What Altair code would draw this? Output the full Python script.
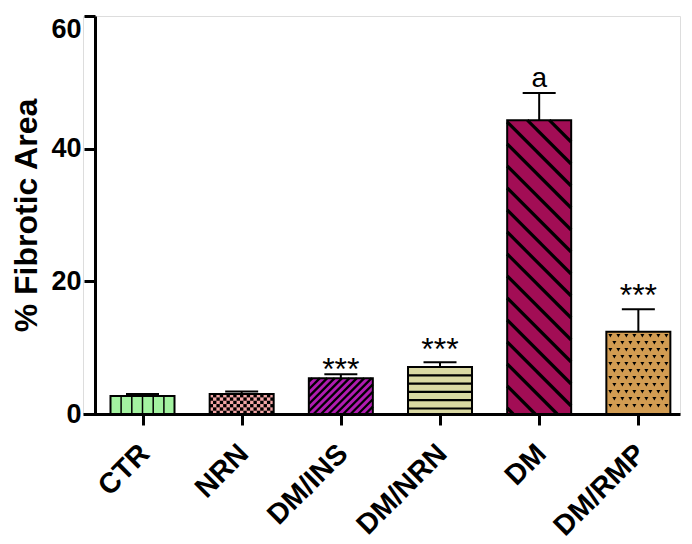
import altair as alt
import pandas as pd
import numpy as np

# ---------------- data ----------------
groups = ["CTR", "NRN", "DM/INS", "DM/NRN", "DM", "DM/RMP"]
means = [2.7, 3.0, 5.4, 7.1, 44.3, 12.4]
sems = [0.3, 0.4, 0.6, 0.7, 4.1, 3.4]
fills = ["#a3f3a0", "#f4a6a6", "#b01cb0", "#d9d8a2", "#a20d55", "#d29c52"]
marks = ["", "", "***", "***", "a", "***"]
mark_y = [None, None, 7.2, 10.3, 49.3, 18.4]   # bottom of the annotation glyph
y_ticks = [0, 20, 40, 60]

# ---------------- layout ----------------
FONT = "Liberation Sans, Arial, Helvetica, sans-serif"
W, H = 597, 398
XMIN, XMAX = -0.6, 5.42
YMAX = 60
PX = W / (XMAX - XMIN)   # px per x unit
PY = H / YMAX            # px per y unit
BW = 32 / PX             # half bar width
CAP = 16.5 / PX          # half cap width

df = pd.DataFrame({"i": range(6), "group": groups, "mean": means, "sem": sems, "fill": fills})
df["x"] = df["i"] - BW
df["x2"] = df["i"] + BW
df["zero"] = 0.0
df["top"] = df["mean"] + df["sem"]
df["cx"] = df["i"] - CAP
df["cx2"] = df["i"] + CAP

# ---------------- patterns (derived from bar geometry) ----------------
lines = []
def add_line(x, x2, y, y2, w):
    lines.append({"x": x, "x2": x2, "y": y, "y2": y2, "w": w})

for i, m in enumerate(means):
    left = i - BW
    wpx = 2 * BW * PX
    hpx = m * PY
    g = groups[i]
    if g == "CTR":
        for k in range(-2, 3):
            xx = i + k * 10.7 / PX
            add_line(xx, xx, 0, m, 1.5)
    elif g == "DM/NRN":
        for yp in np.arange(5.5, hpx - 3, 8.3):
            add_line(left, i + BW, yp / PY, yp / PY, 2.2)
    elif g == "DM/INS":
        for c in np.arange(-wpx, hpx, 7.4):
            lo = max(0.0, -c)
            hi = min(wpx, hpx - c)
            if hi > lo + 0.5:
                add_line(left + lo / PX, left + hi / PX, (lo + c) / PY, (hi + c) / PY, 2.3)
    elif g == "DM":
        for c in np.arange(6, hpx + wpx, 22):
            lo = max(0.0, c - hpx)
            hi = min(wpx, c)
            if hi > lo + 0.5:
                add_line(left + lo / PX, left + hi / PX, (c - lo) / PY, (c - hi) / PY, 3.2)
lines_df = pd.DataFrame(lines)

cells = []
i = groups.index("NRN")
m = means[i]
ncol, nrow = 19, max(1, int(round(m * PY / 3.35)))
cw = 2 * BW / ncol
ch = m / nrow
for r in range(nrow):
    for c in range(ncol):
        if (r + c) % 2 == 0:
            cells.append({"x": i - BW + c * cw, "x2": i - BW + (c + 1) * cw,
                          "y": r * ch, "y2": (r + 1) * ch})
cells_df = pd.DataFrame(cells)

dots = []
i = groups.index("DM/RMP")
m = means[i]
hpx = m * PY
for r, yp in enumerate(np.arange(4, hpx - 2, 7.0)):
    off = 4 if r % 2 else 0
    for xp in np.arange(4 + off, 2 * BW * PX - 2, 8.0):
        dots.append({"x": i - BW + xp / PX, "y": (hpx - yp) / PY})
dots_df = pd.DataFrame(dots)

ann_df = pd.DataFrame({"i": range(6), "mark": marks, "my": mark_y}).dropna()

# ---------------- scales & axes ----------------
xs = alt.Scale(domain=[XMIN, XMAX], nice=False, zero=False)
ys = alt.Scale(domain=[0, YMAX], nice=False, zero=True)
label_expr = "[" + ",".join(f"'{g}'" for g in groups) + "][datum.value]"

xaxis = alt.Axis(values=list(range(6)), labelExpr=label_expr, labelAngle=-45,
                 labelAlign="right", labelBaseline="alphabetic", labelFontSize=28.5,
                 labelFontWeight="bold", labelFont=FONT, labelColor="black",
                 labelPadding=30, labelOffset=8, tickSize=11, tickWidth=3, tickColor="black",
                 domainWidth=3, domainColor="black", grid=False, title=None,
                 labelOverlap=False, labelBound=False)
yaxis = alt.Axis(values=y_ticks, labelFontSize=27, labelFontWeight="bold",
                 labelFont=FONT, labelColor="black", labelPadding=3,
                 labelBaseline=alt.expr("datum.value == 60 ? 'top' : 'middle'"),
                 tickSize=11, tickWidth=3, tickColor="black", domainWidth=3,
                 domainColor="black", grid=False, offset=-12,
                 title="% Fibrotic Area", titleFont=FONT, titleFontSize=32,
                 titleFontWeight="bold", titleColor="black", titlePadding=7)

def X(f):
    return alt.X(f, scale=xs, axis=xaxis)

def Y(f):
    return alt.Y(f, scale=ys, axis=yaxis)

bars = alt.Chart(df).mark_rect(strokeWidth=0).encode(
    x=X("x:Q"), x2="x2:Q", y=Y("mean:Q"), y2="zero:Q",
    fill=alt.Fill("fill:N", scale=None),
)

pattern_lines = alt.Chart(lines_df).mark_rule(color="black").encode(
    x=X("x:Q"), x2="x2:Q", y=Y("y:Q"), y2="y2:Q",
    strokeWidth=alt.StrokeWidth("w:Q", scale=None),
)

checker = alt.Chart(cells_df).mark_rect(color="black").encode(
    x=X("x:Q"), x2="x2:Q", y=Y("y:Q"), y2="y2:Q",
)

dotted = alt.Chart(dots_df).mark_point(shape="triangle-down", filled=True,
                                        color="black", opacity=1, size=16).encode(
    x=X("x:Q"), y=Y("y:Q"),
)

outline = alt.Chart(df).mark_rect(fillOpacity=0, stroke="black", strokeWidth=2).encode(
    x=X("x:Q"), x2="x2:Q", y=Y("mean:Q"), y2="zero:Q",
)

stem = alt.Chart(df).mark_rule(color="black", strokeWidth=2).encode(
    x=X("i:Q"), y=Y("mean:Q"), y2="top:Q",
)

caps = alt.Chart(df).mark_rule(color="black", strokeWidth=2).encode(
    x=X("cx:Q"), x2="cx2:Q", y=Y("top:Q"),
)

stars = alt.Chart(ann_df).transform_filter("datum.mark == '***'").mark_text(
    font=FONT, fontSize=32, color="black", baseline="alphabetic", dy=14).encode(
    x=X("i:Q"), y=Y("my:Q"), text="mark:N",
)

letter = alt.Chart(ann_df).transform_filter("datum.mark == 'a'").mark_text(
    font=FONT, fontSize=28, color="black", baseline="alphabetic").encode(
    x=X("i:Q"), y=Y("my:Q"), text="mark:N",
)

chart = alt.layer(bars, pattern_lines, checker, dotted, outline, stem, caps, stars, letter).properties(
    width=W, height=H,
    autosize=alt.AutoSizeParams(type="none"),
    padding={"left": 75, "right": 4, "top": 8, "bottom": 128},
).configure_view(strokeWidth=0).configure(background="white")

chart.save("out.html", embed_options={"renderer": "svg", "actions": False})
